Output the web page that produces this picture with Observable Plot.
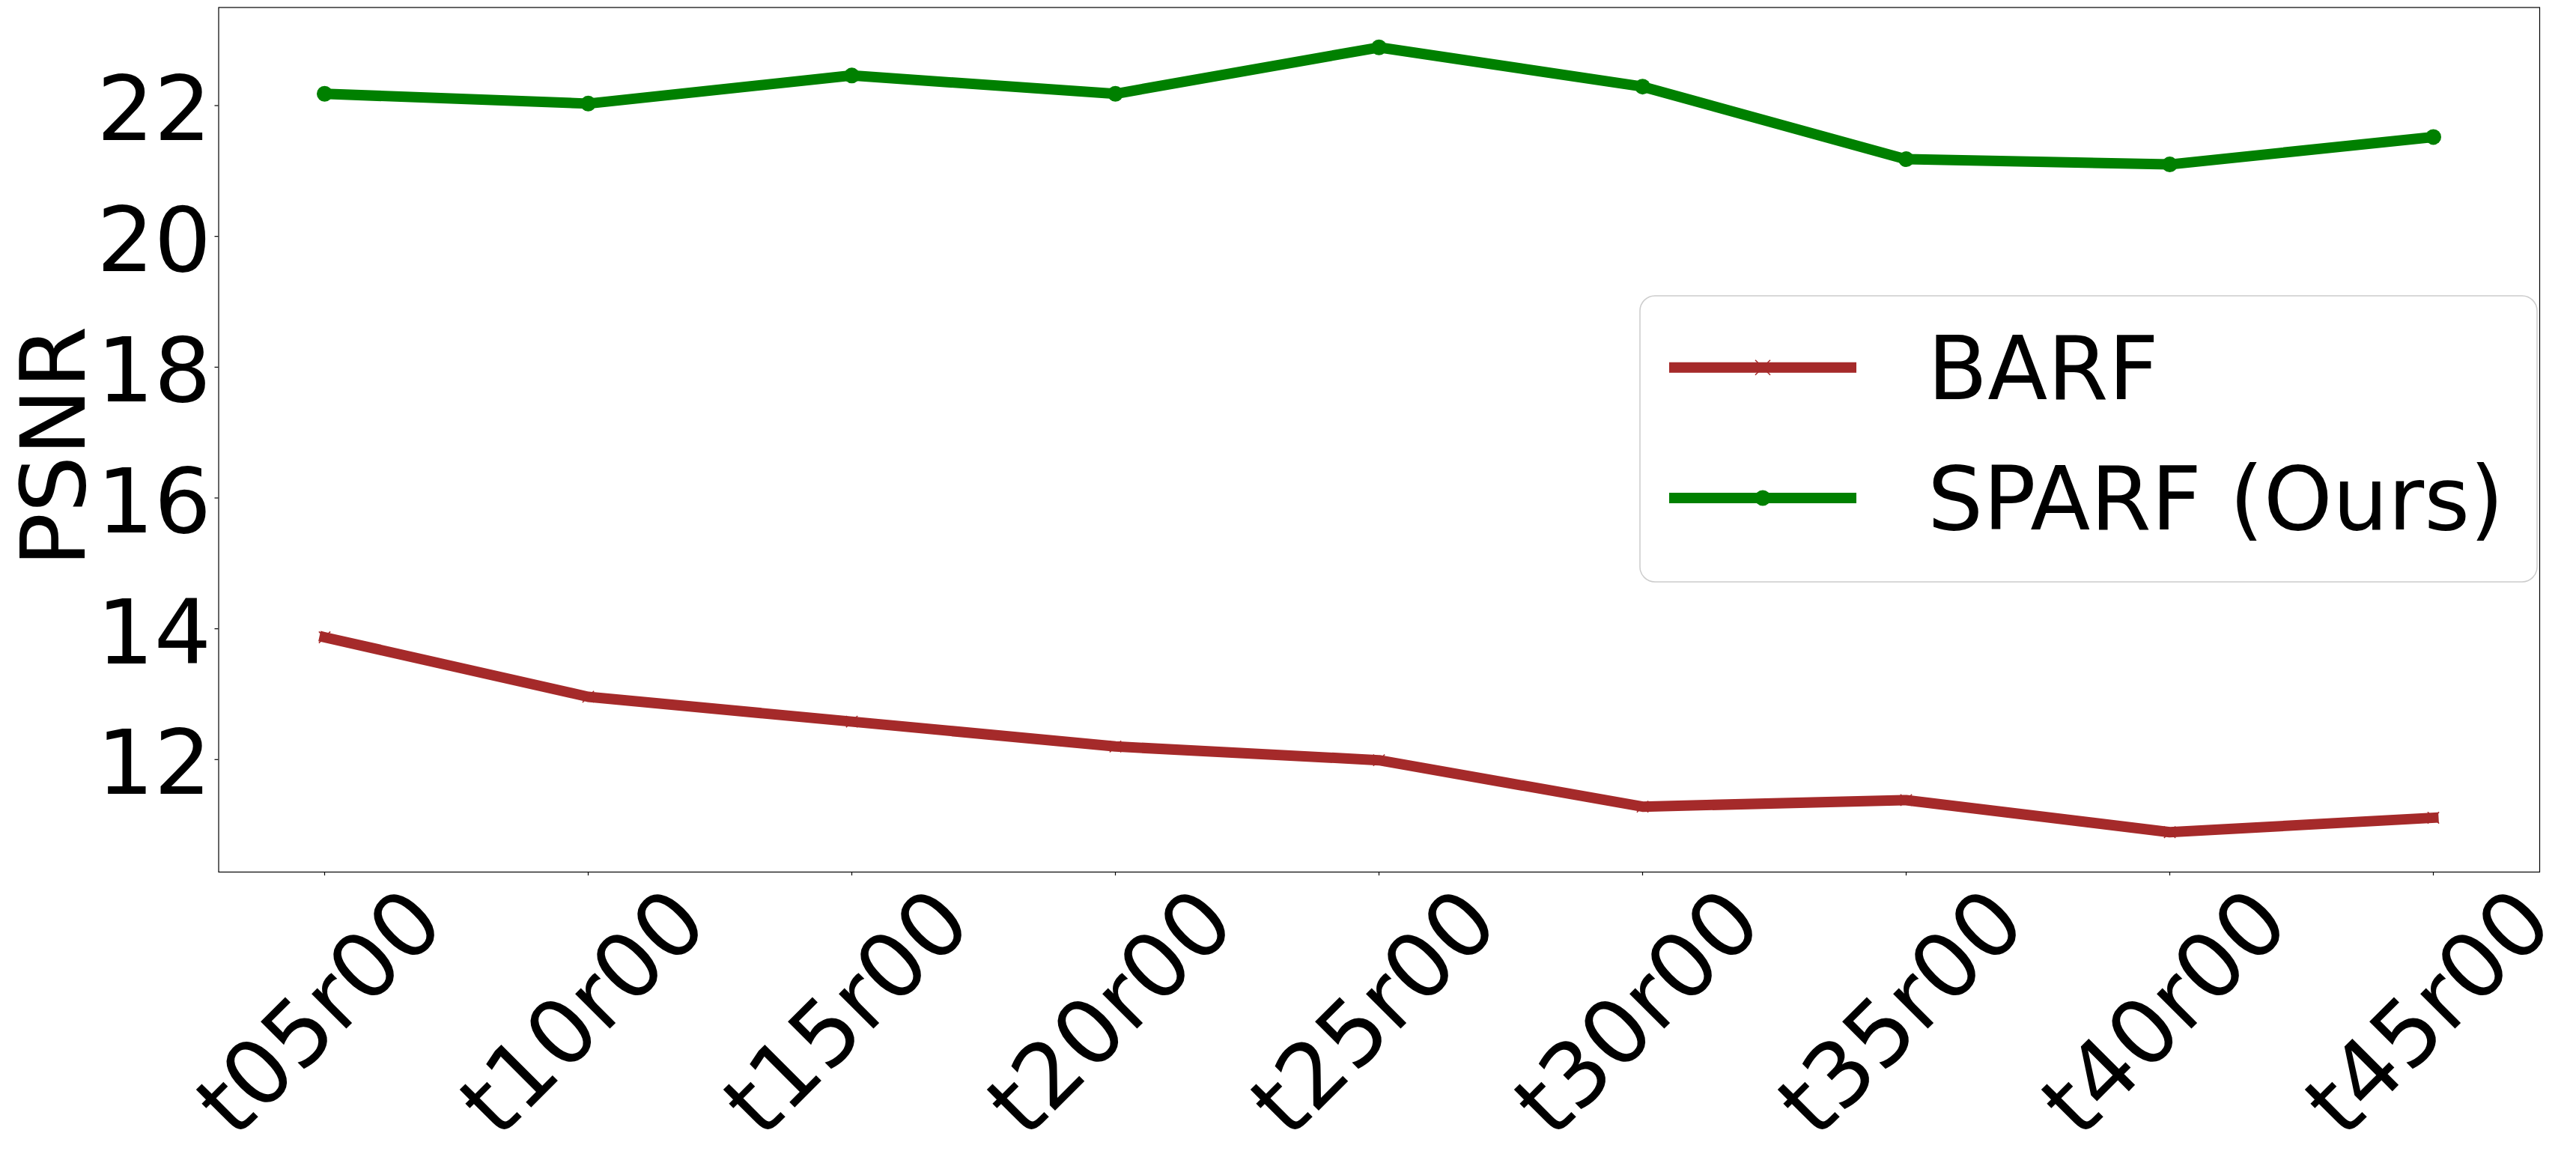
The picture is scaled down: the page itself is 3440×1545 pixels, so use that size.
<!DOCTYPE html>
<html>
<head>
<meta charset="utf-8">
<script src="https://cdn.jsdelivr.net/npm/d3@7"></script>
<script src="https://cdn.jsdelivr.net/npm/@observablehq/plot@0.6"></script>
<style>
  html, body { margin: 0; padding: 0; background: white; }
  #chart { width: 3440px; height: 1545px; }
</style>
</head>
<body>
<div id="chart"></div>
<script>
// ---- data ----
const categories = ["t05r00", "t10r00", "t15r00", "t20r00", "t25r00", "t30r00", "t35r00", "t40r00", "t45r00"];
const barf  = [13.87, 12.96, 12.58, 12.20, 11.99, 11.28, 11.38, 10.89, 11.11];
const sparf = [22.18, 22.03, 22.46, 22.18, 22.89, 22.29, 21.18, 21.10, 21.52];
const yTicks = [12, 14, 16, 18, 20, 22];
const seriesNames = ["BARF", "SPARF (Ours)"];
const seriesColors = ["#a52a2a", "#008000"];
const yLabel = "PSNR";

const rows = categories.map((c, i) => ({cat: c, barf: barf[i], sparf: sparf[i]}));

const W = 3440, H = 1545;
const FONT = 120;
const LEGEND_FONT = 117;

function legendMark(index, scales, values, dims) {
  const g = d3.create("svg:g");
  const bx = 2190, by = 395, bw = 1198, bh = 382;
  g.append("rect")
    .attr("x", bx).attr("y", by).attr("width", bw).attr("height", bh)
    .attr("rx", 20).attr("ry", 20)
    .attr("fill", "white").attr("fill-opacity", 0.8)
    .attr("stroke", "#cccccc").attr("stroke-width", 1.5);
  const rowsY = [490.7, 665];
  const textY = [532.7, 706.7];
  seriesNames.forEach((name, i) => {
    g.append("line")
      .attr("x1", 2229).attr("x2", 2479).attr("y1", rowsY[i]).attr("y2", rowsY[i])
      .attr("stroke", seriesColors[i]).attr("stroke-width", 14);
    if (i === 0) {
      g.append("path")
        .attr("d", `M${2354-10},${rowsY[i]-10}L${2354+10},${rowsY[i]+10}M${2354-10},${rowsY[i]+10}L${2354+10},${rowsY[i]-10}`)
        .attr("stroke", seriesColors[i]).attr("stroke-width", 1.5);
    } else {
      g.append("circle").attr("cx", 2354).attr("cy", rowsY[i]).attr("r", 10.5)
        .attr("fill", seriesColors[i]);
    }
    g.append("text")
      .attr("x", 2574).attr("y", textY[i])
      .attr("text-anchor", "start")
      .attr("font-size", LEGEND_FONT)
      .attr("font-family", "DejaVu Sans")
      .attr("fill", "black")
      .text(name);
  });
  return g.node();
}

const plot = Plot.plot({
  width: W,
  height: H,
  marginLeft: 291.5,
  marginRight: 49,
  marginTop: 9.5,
  marginBottom: 381,
  style: {fontFamily: "DejaVu Sans", fontSize: FONT + "px", background: "white", color: "black"},
  x: {type: "point", domain: categories, padding: 0.4, label: null},
  y: {domain: [10.28, 23.5], label: null},
  marks: [
    Plot.frame({stroke: "black", strokeWidth: 1.2}),
    Plot.axisY({ticks: yTicks, tickSize: 5, tickFormat: () => "", label: null, strokeWidth: 1.2}),
    Plot.axisX({tickSize: 5, tickFormat: () => "", label: null, strokeWidth: 1.2}),
    Plot.text(yTicks, {y: d => d, text: d => String(d), frameAnchor: "left", textAnchor: "end",
      dx: -10, dy: 7.5, fontSize: FONT}),
    Plot.text(categories, {x: d => d, text: d => d, frameAnchor: "bottom", textAnchor: "end",
      lineAnchor: "bottom", rotate: -45, dx: 164, dy: 74, fontSize: FONT}),
    Plot.text([yLabel], {text: d => d, frameAnchor: "left", rotate: -90, textAnchor: "middle",
      lineAnchor: "bottom", dx: -179.5, dy: 9, fontSize: FONT}),
    Plot.line(rows, {x: "cat", y: "barf", stroke: seriesColors[0], strokeWidth: 14,
      strokeLinecap: "square", strokeLinejoin: "round"}),
    Plot.dot(rows, {x: "cat", y: "barf", symbol: "times", r: 7, stroke: seriesColors[0], strokeWidth: 1.5}),
    Plot.line(rows, {x: "cat", y: "sparf", stroke: seriesColors[1], strokeWidth: 14,
      strokeLinecap: "square", strokeLinejoin: "round"}),
    Plot.dot(rows, {x: "cat", y: "sparf", r: 10.5, fill: seriesColors[1], stroke: "none"}),
    legendMark
  ]
});

document.getElementById("chart").appendChild(plot);
</script>
</body>
</html>
